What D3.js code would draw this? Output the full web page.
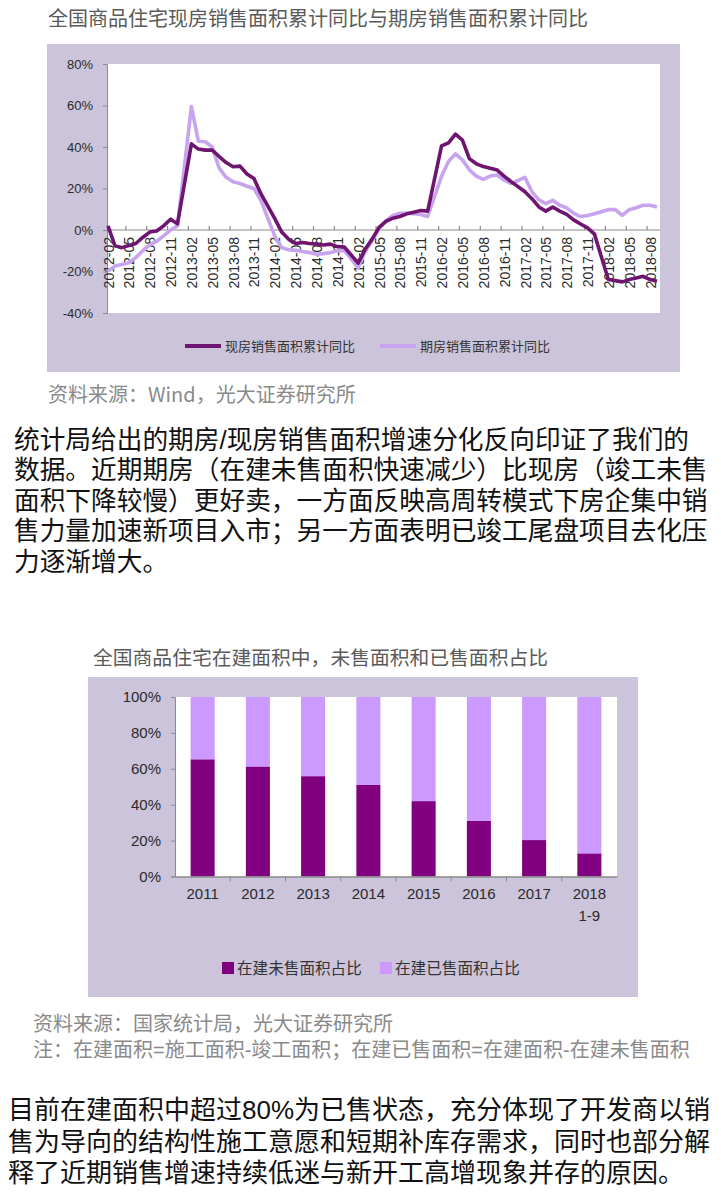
<!DOCTYPE html>
<html>
<head>
<meta charset="utf-8">
<script src="https://cdn.jsdelivr.net/npm/d3@7"></script>
<style>
  body { margin: 0; background: #fff; }
  svg { display: block; font-family: "Noto Sans CJK SC", "Liberation Sans", sans-serif; }
  .ax text { font-family: "Liberation Sans", Arial, sans-serif; fill: #2a2a2a; }
  .tight { font-family: "Liberation Sans", "Noto Sans CJK SC", sans-serif; }
</style>
</head>
<body>
<svg width="721" height="1203"></svg>
<script>
// ---- chart 1: 现房 / 期房 销售面积累计同比 (%) ----
const months = [
  '2012-02','2012-03','2012-04','2012-05','2012-06','2012-07','2012-08','2012-09','2012-10','2012-11','2012-12',
  '2013-02','2013-03','2013-04','2013-05','2013-06','2013-07','2013-08','2013-09','2013-10','2013-11','2013-12',
  '2014-02','2014-03','2014-04','2014-05','2014-06','2014-07','2014-08','2014-09','2014-10','2014-11','2014-12',
  '2015-02','2015-03','2015-04','2015-05','2015-06','2015-07','2015-08','2015-09','2015-10','2015-11','2015-12',
  '2016-02','2016-03','2016-04','2016-05','2016-06','2016-07','2016-08','2016-09','2016-10','2016-11','2016-12',
  '2017-02','2017-03','2017-04','2017-05','2017-06','2017-07','2017-08','2017-09','2017-10','2017-11','2017-12',
  '2018-02','2018-03','2018-04','2018-05','2018-06','2018-07','2018-08','2018-09'
]
const spotSales = [
  2, -7.6, -8.5, -7.5, -6.5, -3.6, -1, -0.5, 2, 5.2, 3,
  41.5, 39, 38.5, 38.5, 35.4, 32.5, 30.5, 30.8, 27, 24.8, 17.5,
  5.5, -1, -4.5, -6.5, -6, -6.5, -6.8, -7.2, -6.8, -8, -8.2,
  -16, -9.3, -4.4, 1.3, 4.2, 5.7, 6.5, 7.8, 8.6, 9.4, 9.1,
  40.5, 42, 46.2, 43.3, 34.4, 31.9, 30.6, 29.8, 28.9, 26, 23.3,
  18.4, 15.1, 11.1, 9.1, 11.1, 9.1, 7.5, 4.9, 2.9, 1, -2,
  -23.9, -24.4, -25, -23.9, -23.1, -22.3, -23.9, -24.7
]
const presales = [
  -19.8, -17.4, -16.6, -15.8, -13.3, -10, -7.2, -5.5, -2.8, 0, 2,
  59.5, 42.8, 42.5, 40, 29.8, 25.4, 23.3, 22.4, 21.1, 20, 14.3,
  -3, -8.5, -9.5, -9.8, -10.4, -10.9, -11.7, -11.4, -10.9, -10, -9.8,
  -18.2, -10.4, -5.2, 0.5, 4.5, 7, 8.1, 8.1, 7.8, 7.5, 6.5,
  26, 33, 36.7, 33.8, 29, 26, 24.4, 26, 26.5, 24, 22.4,
  25.4, 18.4, 14.6, 12.7, 14.3, 11.9, 10.7, 8.1, 6.5, 7, 7.8,
  9.8, 9.8, 7, 9.8, 10.7, 11.9, 11.9, 11.1
]
const lineTicks = [80, 60, 40, 20, 0, -20, -40]
const lineLabels = [
  '2012-02','2012-05','2012-08','2012-11','2013-02','2013-05','2013-08','2013-11',
  '2014-02','2014-05','2014-08','2014-11','2015-02','2015-05','2015-08','2015-11',
  '2016-02','2016-05','2016-08','2016-11','2017-02','2017-05','2017-08','2017-11',
  '2018-02','2018-05','2018-08'
]
const lineNames = ['现房销售面积累计同比', '期房销售面积累计同比']

// ---- chart 2: 在建面积中 未售 / 已售 占比 (%) ----
const years = ['2011', '2012', '2013', '2014', '2015', '2016', '2017', '2018']
const unsoldShare = [65.3, 61.3, 55.9, 51.0, 42.0, 31.0, 20.3, 12.9]
const soldShare = unsoldShare.map(v => 100 - v)
const barTicks = [0, 20, 40, 60, 80, 100]
const barNames = ['在建未售面积占比', '在建已售面积占比']

const panel = '#ccc4da'
const darkLine = '#6e156f'
const lightLine = '#c8a4ef'
const darkBar = '#800080'
const lightBar = '#cc99ff'
const axisGray = '#8a8a8a'

const svg = d3.select('svg')

// month string -> running month index
const mIdx = s => { const [y, m] = s.split('-').map(Number); return y * 12 + m - 1 }

// ================= chart 1 =================
svg.append('text').attr('x', 48).attr('y', 26)
    .attr('font-size', 20).attr('fill', '#5a5a5a')
    .text('全国商品住宅现房销售面积累计同比与期房销售面积累计同比')

svg.append('rect').attr('x', 47).attr('y', 44).attr('width', 633).attr('height', 328).attr('fill', panel)
svg.append('rect').attr('x', 107).attr('y', 64).attr('width', 553).attr('height', 249).attr('fill', '#fff')

const x1 = d3.scaleLinear().domain([mIdx('2012-02'), mIdx('2018-09')]).range([108, 657])
const y1 = d3.scaleLinear().domain([-40, 80]).range([313, 64])

// y axis
const gy1 = svg.append('g').attr('class', 'ax').attr('transform', 'translate(107,0)')
    .call(d3.axisLeft(y1).tickValues(lineTicks).tickSize(4).tickPadding(10).tickFormat(d => d + '%'))
gy1.selectAll('text').attr('font-size', 13)
gy1.selectAll('line, path').attr('stroke', axisGray)

// x axis: labels at every third month, ticks between categories
const gx1 = svg.append('g').attr('class', 'ax').attr('transform', `translate(0,${y1(0)})`)
    .call(d3.axisBottom(x1).tickValues(lineLabels.map(mIdx)).tickSize(0)
        .tickFormat(d => lineLabels.find(s => mIdx(s) === d)))
gx1.select('.domain').remove()
gx1.selectAll('text')
    .attr('font-size', 14)
    .attr('transform', 'rotate(-90)')
    .attr('text-anchor', 'end')
    .attr('x', -7).attr('y', 0).attr('dy', '0.36em')

const gt1 = svg.append('g').attr('transform', `translate(0,${y1(0)})`)
    .call(d3.axisBottom(x1).tickValues(lineLabels.slice(1).map(s => mIdx(s) - 0.5))
        .tickSize(-4).tickFormat(''))
gt1.select('.domain').attr('d', 'M107,0H660')
gt1.selectAll('line, path').attr('stroke', axisGray).attr('stroke-width', 1.2)

const line = d3.line().x(d => x1(mIdx(d.m))).y(d => y1(d.v))
const series = [
  { name: lineNames[0], color: darkLine, values: months.map((m, i) => ({ m, v: spotSales[i] })) },
  { name: lineNames[1], color: lightLine, values: months.map((m, i) => ({ m, v: presales[i] })) }
]
// draw light series first so the dark one sits on top
svg.selectAll('path.series').data(series.slice().reverse()).enter().append('path')
    .attr('class', 'series')
    .attr('d', d => line(d.values))
    .attr('fill', 'none')
    .attr('stroke', d => d.color)
    .attr('stroke-width', 3.6)
    .attr('stroke-linejoin', 'round')

// legend
const lg1 = svg.selectAll('g.lg1').data(series).enter().append('g')
    .attr('class', 'lg1')
    .attr('transform', (d, i) => `translate(${i ? 380 : 185},346)`)
lg1.append('line').attr('x1', 0).attr('x2', 36)
    .attr('stroke', d => d.color).attr('stroke-width', 4)
lg1.append('text').attr('x', 40).attr('dy', '0.36em')
    .attr('font-size', 13).attr('fill', '#333')
    .text(d => d.name)

svg.append('text').attr('x', 48).attr('y', 402)
    .attr('font-size', 20).attr('fill', '#8a8a8a')
    .text('资料来源：Wind，光大证券研究所')

// ================= paragraph 1 =================
const para1 = [
  '统计局给出的期房/现房销售面积增速分化反向印证了我们的',
  '数据。近期期房（在建未售面积快速减少）比现房（竣工未售',
  '面积下降较慢）更好卖，一方面反映高周转模式下房企集中销',
  '售力量加速新项目入市；另一方面表明已竣工尾盘项目去化压',
  '力逐渐增大。'
]
svg.selectAll('text.p1').data(para1).enter().append('text')
    .attr('class', 'p1 tight')
    .attr('x', 14).attr('y', (d, i) => 449 + i * 30.4)
    .attr('font-size', 25.7).attr('fill', '#111')
    .text(d => d)

// ================= chart 2 =================
svg.append('text').attr('x', 93).attr('y', 665)
    .attr('font-size', 19.8).attr('fill', '#5a5a5a')
    .text('全国商品住宅在建面积中，未售面积和已售面积占比')

svg.append('rect').attr('x', 88).attr('y', 677).attr('width', 550).attr('height', 320).attr('fill', panel)
svg.append('rect').attr('x', 175).attr('y', 697).attr('width', 442).attr('height', 180).attr('fill', '#fff')

const x2 = d3.scaleBand().domain(years).range([175, 617]).paddingInner(0.565).paddingOuter(0.2825)
const y2 = d3.scaleLinear().domain([0, 100]).range([876.5, 697])

const stack = years.map((y, i) => ({ year: y, unsold: unsoldShare[i], sold: soldShare[i] }))
svg.selectAll('rect.unsold').data(stack).enter().append('rect')
    .attr('class', 'unsold')
    .attr('x', d => x2(d.year)).attr('width', x2.bandwidth())
    .attr('y', d => y2(d.unsold)).attr('height', d => y2(0) - y2(d.unsold))
    .attr('fill', darkBar)
svg.selectAll('rect.sold').data(stack).enter().append('rect')
    .attr('class', 'sold')
    .attr('x', d => x2(d.year)).attr('width', x2.bandwidth())
    .attr('y', d => y2(d.unsold + d.sold)).attr('height', d => y2(d.unsold) - y2(d.unsold + d.sold))
    .attr('fill', lightBar)

const gy2 = svg.append('g').attr('class', 'ax').attr('transform', 'translate(175,0)')
    .call(d3.axisLeft(y2).tickValues(barTicks).tickSize(4).tickPadding(10).tickFormat(d => d + '%'))
gy2.selectAll('text').attr('font-size', 15)
gy2.selectAll('line, path').attr('stroke', axisGray)

const gx2 = svg.append('g').attr('class', 'ax').attr('transform', `translate(0,${y2(0)})`)
    .call(d3.axisBottom(x2).tickSize(0).tickPadding(12))
gx2.selectAll('text').attr('font-size', 15).attr('dy', '0.71em')
gx2.selectAll('.tick').filter(d => d === '2018').append('text')
    .attr('y', 34).attr('dy', '0.71em').attr('font-size', 15).attr('fill', '#2a2a2a')
    .text('1-9')
gx2.select('.domain').attr('stroke', axisGray).attr('stroke-width', 1.5)
// ticks between bars
svg.append('g').attr('transform', `translate(0,${y2(0)})`)
    .selectAll('line').data(years.slice(1)).enter().append('line')
    .attr('x1', d => x2(d) - x2.step() * x2.paddingInner() / 2)
    .attr('x2', d => x2(d) - x2.step() * x2.paddingInner() / 2)
    .attr('y1', 0).attr('y2', 5)
    .attr('stroke', axisGray)

// legend
const lg2 = svg.selectAll('g.lg2').data(barNames).enter().append('g')
    .attr('class', 'lg2')
    .attr('transform', (d, i) => `translate(${i ? 380 : 222},968)`)
lg2.append('rect').attr('x', 0).attr('y', -6).attr('width', 12).attr('height', 12)
    .attr('fill', (d, i) => i ? lightBar : darkBar)
lg2.append('text').attr('x', 15).attr('dy', '0.36em')
    .attr('font-size', 15.6).attr('fill', '#333')
    .text(d => d)

svg.append('text').attr('class', 'tight').attr('x', 33).attr('y', 1031)
    .attr('font-size', 20).attr('fill', '#8a8a8a')
    .text('资料来源：国家统计局，光大证券研究所')
svg.append('text').attr('class', 'tight').attr('x', 33).attr('y', 1057)
    .attr('font-size', 20).attr('fill', '#8a8a8a')
    .text('注：在建面积=施工面积-竣工面积；在建已售面积=在建面积-在建未售面积')

// ================= paragraph 2 =================
const para2 = [
  '目前在建面积中超过80%为已售状态，充分体现了开发商以销',
  '售为导向的结构性施工意愿和短期补库存需求，同时也部分解',
  '释了近期销售增速持续低迷与新开工高增现象并存的原因。'
]
svg.selectAll('text.p2').data(para2).enter().append('text')
    .attr('class', 'p2 tight')
    .attr('x', 8).attr('y', (d, i) => 1119 + i * 31.5)
    .attr('font-size', 26).attr('fill', '#111')
    .text(d => d)
</script>
</body>
</html>
